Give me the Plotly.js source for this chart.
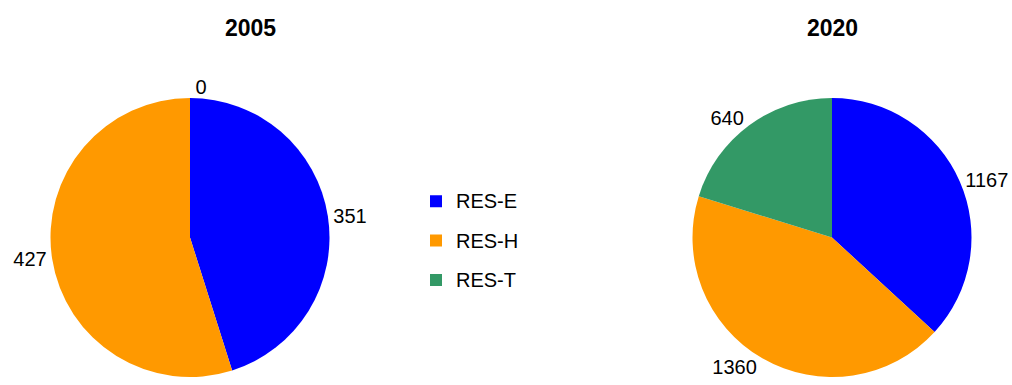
<!DOCTYPE html>
<html>
<head>
<meta charset="utf-8">
<script src="https://cdn.plot.ly/plotly-3.0.1.min.js"></script>
<style>
  html, body { margin: 0; padding: 0; background: #ffffff; }
  #chart { width: 1012px; height: 385px; }
</style>
</head>
<body>
<div id="chart"></div>
<script>
// Renewable energy shares by sector, two reference years
const categories = ['RES-E', 'RES-H', 'RES-T'];
const values2005 = [351, 427, 0];
const values2020 = [1167, 1360, 640];
const yearTitles = ['2005', '2020'];
const sliceColors = ['#0000FF', '#FF9900', '#339966'];

const FONT = 'Liberation Sans, Arial, Helvetica, sans-serif';
const W = 1012, H = 385;

// legend entries are styled smaller than the legend font so rows get wider spacing
const legendLabels = categories.map(c =>
  '<span style="font-size:20px;baseline-shift:4px">' + c + '</span>');

function pieTrace(vals, x0, x1) {
  return {
    type: 'pie',
    labels: legendLabels,
    values: vals,
    sort: false,
    direction: 'clockwise',
    rotation: 0,
    marker: { colors: sliceColors, line: { width: 0 } },
    textinfo: 'value',
    textposition: 'outside',
    textfont: { family: FONT, size: 20, color: '#000000' },
    hoverinfo: 'none',
    domain: { x: [x0 / W, x1 / W], y: [8 / H, 287 / H] }
  };
}

const data = [
  pieTrace(values2005, 50, 330),
  pieTrace(values2020, 692, 972)
];

const layout = {
  width: W,
  height: H,
  margin: { l: 0, r: 0, t: 0, b: 0 },
  paper_bgcolor: '#ffffff',
  font: { family: FONT, color: '#000000' },
  showlegend: true,
  legend: {
    x: 416 / W, xanchor: 'left',
    y: 1 - 241 / H, yanchor: 'middle',
    font: { family: FONT, size: 28, color: '#000000' },
    bgcolor: 'rgba(0,0,0,0)',
    borderwidth: 0
  },
  annotations: [
    { text: yearTitles[0], x: 250 / W, y: 1 - 28 / H, xref: 'paper', yref: 'paper',
      xanchor: 'center', yanchor: 'middle', showarrow: false,
      font: { family: FONT, size: 23, weight: 'bold', color: '#000000' } },
    { text: yearTitles[1], x: 832 / W, y: 1 - 28 / H, xref: 'paper', yref: 'paper',
      xanchor: 'center', yanchor: 'middle', showarrow: false,
      font: { family: FONT, size: 23, weight: 'bold', color: '#000000' } }
  ]
};

Plotly.newPlot('chart', data, layout, { displayModeBar: false, staticPlot: true });
</script>
</body>
</html>
